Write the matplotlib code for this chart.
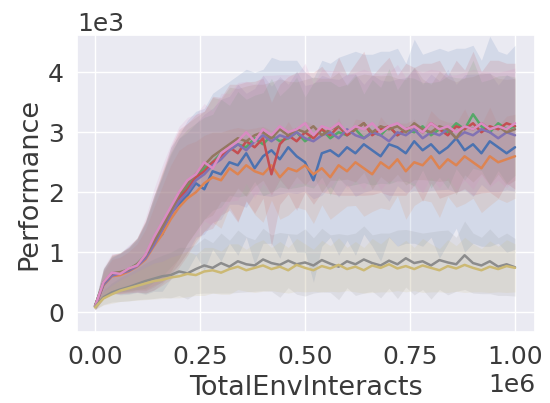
import numpy as np
import matplotlib
matplotlib.use("Agg")
import matplotlib.pyplot as plt
import seaborn as sns

# training steps (x), every 20k interactions
steps = [0, 20000, 40000, 60000, 80000, 100000, 120000, 140000, 160000, 180000,
         200000, 220000, 240000, 260000, 280000, 300000, 320000, 340000, 360000, 380000,
         400000, 420000, 440000, 460000, 480000, 500000, 520000, 540000, 560000, 580000,
         600000, 620000, 640000, 660000, 680000, 700000, 720000, 740000, 760000, 780000,
         800000, 820000, 840000, 860000, 880000, 900000, 920000, 940000, 960000, 980000,
         1000000]

# mean performance per run
blue_mean = [100, 480, 620, 640, 700, 780, 900, 1150, 1300, 1650,
             1800, 1950, 2150, 2050, 2350, 2300, 2500, 2450, 2650, 2400,
             2600, 2700, 2550, 2750, 2600, 2500, 2200, 2650, 2700, 2600,
             2750, 2650, 2800, 2700, 2600, 2800, 2750, 2650, 2850, 2700,
             2800, 2650, 2750, 2900, 2700, 2800, 2650, 2850, 2750, 2650,
             2750]
orange_mean = [90, 450, 600, 620, 680, 760, 880, 1100, 1300, 1550,
               1750, 1900, 2000, 2150, 2250, 2200, 2400, 2300, 2450, 2350,
               2300, 2450, 2250, 2400, 2350, 2450, 2300, 2400, 2250, 2450,
               2350, 2500, 2400, 2300, 2500, 2400, 2550, 2350, 2500, 2450,
               2600, 2400, 2550, 2450, 2600, 2500, 2400, 2600, 2500, 2550,
               2600]
green_mean = [110, 500, 640, 660, 720, 800, 950, 1200, 1450, 1700,
              1900, 2100, 2250, 2400, 2500, 2650, 2700, 2800, 2750, 2900,
              2800, 2950, 2850, 2900, 3000, 2850, 2950, 3050, 2900, 3000,
              2950, 3050, 2900, 3000, 2950, 3100, 2950, 3050, 3000, 3100,
              2950, 3050, 3000, 3150, 3050, 3300, 3100, 3000, 3150, 3050,
              3100]
red_mean = [100, 470, 630, 650, 700, 790, 920, 1150, 1400, 1650,
            1900, 2050, 2250, 2350, 2500, 2600, 2750, 2650, 2850, 2750,
            2900, 2300, 2800, 2950, 2850, 3000, 2900, 3050, 2950, 3100,
            2950, 3050, 3150, 2950, 3050, 3100, 2950, 3050, 3100, 3000,
            3150, 3050, 2950, 3100, 3050, 3150, 3000, 3100, 3050, 3150,
            3100]
purple_mean = [95, 460, 610, 650, 690, 770, 900, 1120, 1380, 1620,
               1850, 2000, 2200, 2300, 2450, 2550, 2700, 2800, 2700, 2850,
               2950, 2850, 2950, 2900, 3000, 2900, 2850, 2950, 3000, 2900,
               3050, 2950, 2900, 3000, 2950, 2850, 3000, 2950, 3050, 2900,
               3000, 2950, 3050, 2900, 3000, 2950, 3050, 3000, 2900, 3000,
               2950]
brown_mean = [105, 490, 650, 670, 710, 800, 940, 1180, 1420, 1680,
              1950, 2150, 2300, 2450, 2600, 2700, 2800, 2900, 2850, 2950,
              3000, 2900, 3050, 2950, 3050, 3000, 3100, 2950, 3050, 3100,
              3000, 3050, 3150, 3000, 3100, 3050, 3100, 3000, 3150, 3050,
              3000, 3100, 3050, 2900, 3100, 3050, 3150, 3050, 3100, 3000,
              3050]
pink_mean = [100, 500, 660, 640, 730, 780, 960, 1250, 1500, 1750,
             2000, 2200, 2300, 2500, 2400, 2650, 2750, 2850, 3000, 2850,
             3050, 2950, 3100, 3000, 3050, 3150, 2950, 3100, 3050, 3150,
             3000, 3100, 3050, 3150, 3000, 3100, 3150, 3050, 3100, 3000,
             3150, 3050, 3100, 3000, 3100, 3050, 3150, 3050, 3100, 3050,
             3150]
gray_mean = [90, 250, 330, 380, 420, 470, 520, 560, 600, 620,
             680, 650, 720, 780, 740, 820, 760, 850, 800, 780,
             880, 820, 790, 860, 800, 830, 780, 870, 810, 760,
             850, 800, 880, 820, 780, 860, 800, 900, 820, 850,
             780, 870, 830, 800, 950, 820, 780, 850, 760, 800,
             750]
olive_mean = [80, 230, 300, 360, 400, 440, 480, 520, 540, 580,
              600, 640, 620, 680, 700, 660, 720, 760, 700, 740,
              780, 720, 760, 700, 790, 740, 700, 770, 730, 790,
              720, 760, 700, 780, 740, 800, 730, 770, 720, 780,
              740, 700, 770, 730, 790, 740, 700, 760, 720, 770,
              740]

# standard deviation across seeds
blue_sd = [60, 250, 300, 350, 400, 450, 600, 800, 950, 1100,
           1150, 1250, 1200, 1350, 1300, 1450, 1350, 1500, 1400, 1600,
           1450, 1550, 1650, 1450, 1600, 1500, 1700, 1550, 1450, 1650,
           1550, 1700, 1500, 1600, 1750, 1550, 1650, 1500, 1700, 1600,
           1550, 1750, 1600, 1500, 1700, 1650, 1550, 1750, 1600, 1650,
           1700]
orange_sd = [50, 220, 280, 300, 330, 380, 500, 650, 800, 900,
             950, 900, 850, 800, 750, 800, 650, 780, 600, 720,
             800, 580, 700, 780, 600, 740, 820, 610, 700, 790,
             580, 720, 800, 620, 760, 690, 610, 800, 720, 580,
             760, 820, 620, 700, 790, 600, 740, 820, 610, 720,
             700]
green_sd = [60, 230, 300, 320, 360, 420, 550, 700, 850, 950,
            1000, 950, 900, 850, 800, 900, 750, 880, 800, 720,
            860, 950, 760, 840, 920, 740, 880, 800, 950, 760,
            850, 920, 740, 880, 800, 960, 760, 870, 900, 730,
            880, 800, 940, 760, 850, 900, 740, 880, 790, 900,
            820]
red_sd = [60, 240, 320, 340, 380, 450, 600, 780, 950, 1100,
          1150, 1100, 1050, 1000, 1100, 980, 1050, 1150, 990, 1100,
          1000, 1200, 1000, 980, 1150, 1000, 1100, 1050, 970, 1150,
          1000, 1100, 1200, 990, 1050, 1150, 1000, 1100, 980, 1150,
          1000, 1150, 1000, 1100, 990, 1200, 1010, 1100, 1150, 1000,
          1050]
purple_sd = [55, 230, 300, 330, 370, 430, 580, 750, 900, 1000,
             1050, 1000, 950, 1000, 950, 1000, 900, 1000, 950, 880,
             1000, 920, 980, 900, 1020, 880, 960, 1000, 900, 980,
             920, 1020, 900, 960, 920, 1000, 890, 960, 1020, 900,
             970, 910, 1000, 900, 960, 1020, 920, 990, 890, 960,
             930]
brown_sd = [55, 230, 310, 330, 370, 440, 580, 760, 900, 1000,
            1050, 1000, 950, 900, 980, 850, 950, 830, 920, 850,
            800, 940, 840, 900, 790, 880, 820, 950, 850, 900,
            780, 880, 820, 950, 840, 900, 800, 880, 940, 840,
            800, 920, 850, 940, 810, 880, 840, 930, 800, 880,
            850]
pink_sd = [60, 250, 320, 340, 390, 450, 620, 800, 950, 1050,
           1100, 1050, 1000, 980, 950, 1000, 900, 980, 850, 950,
           900, 1000, 860, 960, 900, 1000, 850, 950, 980, 870,
           950, 900, 1000, 850, 960, 900, 980, 860, 950, 1000,
           900, 980, 850, 960, 900, 1000, 870, 960, 900, 980,
           920]
gray_sd = [40, 120, 160, 200, 230, 260, 300, 330, 350, 380,
           400, 430, 410, 460, 420, 500, 440, 520, 460, 430,
           520, 470, 540, 450, 500, 560, 460, 530, 480, 550,
           440, 520, 560, 470, 540, 460, 570, 480, 530, 470,
           560, 490, 540, 450, 570, 500, 470, 540, 480, 520,
           480]
olive_sd = [35, 110, 150, 180, 210, 240, 270, 300, 310, 340,
            360, 380, 340, 400, 380, 360, 420, 380, 350, 410,
            430, 360, 420, 380, 440, 400, 350, 430, 380, 450,
            360, 420, 380, 450, 400, 460, 370, 430, 360, 450,
            400, 360, 440, 380, 460, 400, 360, 430, 380, 440,
            400]

runs = [
    (blue_mean, blue_sd),
    (orange_mean, orange_sd),
    (green_mean, green_sd),
    (red_mean, red_sd),
    (purple_mean, purple_sd),
    (brown_mean, brown_sd),
    (pink_mean, pink_sd),
    (gray_mean, gray_sd),
    (olive_mean, olive_sd),
]

sns.set_theme(style="darkgrid")
colors = sns.color_palette("deep", 10)

fig = plt.figure(figsize=(5.5, 4.03), dpi=100)
ax = fig.add_axes([0.14, 0.176, 0.833, 0.737])

x = np.array(steps)
for (m, s), c in zip(runs, colors):
    m = np.array(m)
    s = np.array(s)
    ax.plot(x, m, color=c, linewidth=1.8)
    ax.fill_between(x, m - s, m + s, color=c, alpha=0.14, linewidth=0)

ax.set_xlim(-43000, 1048000)
ax.set_ylim(-330, 4620)
ax.set_xticks([0, 250000, 500000, 750000, 1000000])
ax.set_yticks([0, 1000, 2000, 3000, 4000])
ax.ticklabel_format(style="sci", axis="both", scilimits=(0, 0))
ax.tick_params(labelsize=18, colors="#3a3a3a")
ax.xaxis.get_offset_text().set_fontsize(18)
ax.yaxis.get_offset_text().set_fontsize(18)
ax.xaxis.get_offset_text().set_color("#3a3a3a")
ax.yaxis.get_offset_text().set_color("#3a3a3a")
ax.set_xlabel("TotalEnvInteracts", fontsize=19.5, color="#3a3a3a")
ax.set_ylabel("Performance", fontsize=19.5, color="#3a3a3a")

fig.savefig("out.png")
